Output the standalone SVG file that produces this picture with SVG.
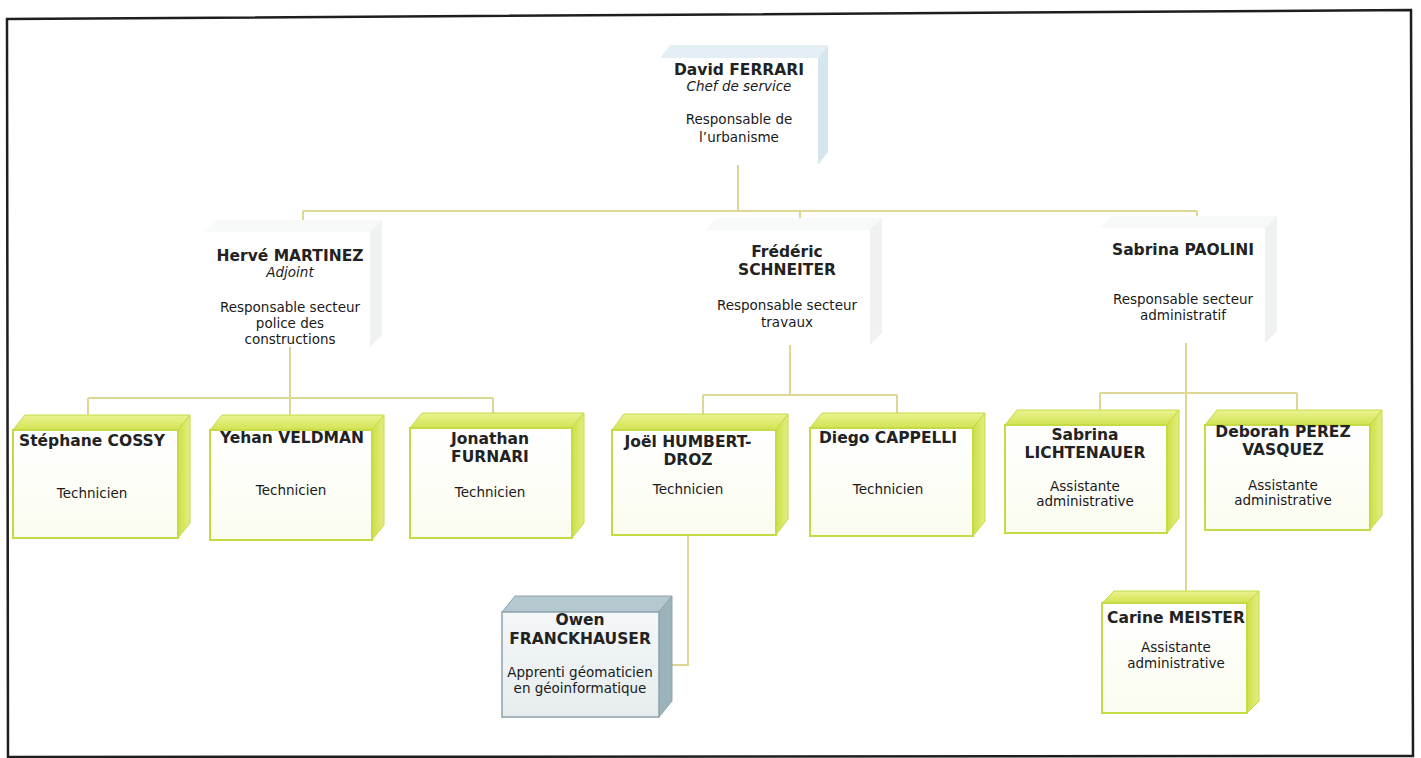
<svg xmlns="http://www.w3.org/2000/svg" width="1421" height="758" viewBox="0 0 1421 758">
<defs>
<linearGradient id="gFront" x1="0" y1="0" x2="0" y2="1"><stop offset="0" stop-color="#ffffff"/><stop offset="1" stop-color="#fbfcef"/></linearGradient>
<linearGradient id="gTop" x1="0" y1="0" x2="0" y2="1"><stop offset="0" stop-color="#eaf390"/><stop offset="1" stop-color="#d2e352"/></linearGradient>
<linearGradient id="gSide" x1="0" y1="0" x2="1" y2="0"><stop offset="0" stop-color="#cde04a"/><stop offset="1" stop-color="#e3ee80"/></linearGradient>
<linearGradient id="gOwenF" x1="0" y1="0" x2="0" y2="1"><stop offset="0" stop-color="#f4f7f8"/><stop offset="1" stop-color="#e6ecee"/></linearGradient>
</defs>
<style>
.frame{fill:none;stroke:#1e1e1e;stroke-width:2.5}
.conn{fill:none;stroke:#dcd894;stroke-width:2}
.yF{fill:url(#gFront);stroke:#c6da46;stroke-width:2}
.yT{fill:url(#gTop);stroke:#c6da46;stroke-width:1}
.yS{fill:url(#gSide);stroke:#c6da46;stroke-width:1}
.wF{fill:#ffffff;stroke:none}
.wT{fill:#f8f9f9;stroke:none}
.wS{fill:#f0f1f1;stroke:none}
.bF{fill:#ffffff;stroke:none}
.bT{fill:#e4eff5;stroke:none}
.bS{fill:#d6e6ef;stroke:none}
.gF{fill:url(#gOwenF);stroke:#8fa3ad;stroke-width:1.5}
.gT{fill:#b6c8cf;stroke:#8fa3ad;stroke-width:1}
.gS{fill:#9db3bb;stroke:#8fa3ad;stroke-width:1}
text{font-family:"DejaVu Sans",Verdana,sans-serif;text-anchor:middle;fill:#1a1a1a}
.n{font-size:15.5px;font-weight:bold;fill:#222}
.r{font-size:13.5px}
.i{font-size:13.5px;font-style:italic}
</style>
<rect width="1421" height="758" fill="#ffffff"/>
<polygon class="frame" points="7,19 1411,10 1413,756 8,757"/>
<g id="connectors">
<path class="conn" d="M738,165 V211 M303,211 H1197 M303,211 V221 M800,211 V218 M1197,211 V216"/>
<path class="conn" d="M290,347 V398 M88,398 H493 M88,398 V416 M290,398 V416 M493,398 V414"/>
<path class="conn" d="M790,345 V395 M703,395 H897 M703,395 V414 M897,395 V413"/>
<path class="conn" d="M1186,343 V591 M1100,393 H1297 M1100,393 V411 M1297,393 V411"/>
<path class="conn" d="M688,535 V665 H672"/>
</g>
<g id="david">
<polygon class="bT" points="660,58 670,45 828,45 818,58"/>
<polygon class="bS" points="818,58 828,45 828,152 818,165"/>
<rect class="bF" x="660" y="58" width="158" height="107"/>
<text class="n" x="739" y="75">David FERRARI</text>
<text class="i" x="739" y="91">Chef de service</text>
<text class="r" x="739" y="124">Responsable de</text>
<text class="r" x="739" y="142">l’urbanisme</text>
</g>
<g id="herve">
<polygon class="wT" points="205,232 217,220 382,220 370,232"/>
<polygon class="wS" points="370,232 382,220 382,335 370,347"/>
<rect class="wF" x="205" y="232" width="165" height="115"/>
<text class="n" x="290" y="261">Hervé MARTINEZ</text>
<text class="i" x="290" y="277">Adjoint</text>
<text class="r" x="290" y="312">Responsable secteur</text>
<text class="r" x="290" y="328">police des</text>
<text class="r" x="290" y="344">constructions</text>
</g>
<g id="frederic">
<polygon class="wT" points="705,230 717,218 882,218 870,230"/>
<polygon class="wS" points="870,230 882,218 882,333 870,345"/>
<rect class="wF" x="705" y="230" width="165" height="115"/>
<text class="n" x="787" y="257">Frédéric</text>
<text class="n" x="787" y="275">SCHNEITER</text>
<text class="r" x="787" y="310">Responsable secteur</text>
<text class="r" x="787" y="327">travaux</text>
</g>
<g id="sabrina-paolini">
<polygon class="wT" points="1100,228 1112,216 1277,216 1265,228"/>
<polygon class="wS" points="1265,228 1277,216 1277,331 1265,343"/>
<rect class="wF" x="1100" y="228" width="165" height="115"/>
<text class="n" x="1183" y="255">Sabrina PAOLINI</text>
<text class="r" x="1183" y="304">Responsable secteur</text>
<text class="r" x="1183" y="320">administratif</text>
</g>
<g id="stephane">
<polygon class="yT" points="13,430 25,415 190,415 178,430"/>
<polygon class="yS" points="178,430 190,415 190,523 178,538"/>
<rect class="yF" x="13" y="430" width="165" height="108"/>
<text class="n" x="92" y="446">Stéphane COSSY</text>
<text class="r" x="92" y="498">Technicien</text>
</g>
<g id="yehan">
<polygon class="yT" points="210,430 222,415 384,415 372,430"/>
<polygon class="yS" points="372,430 384,415 384,525 372,540"/>
<rect class="yF" x="210" y="430" width="162" height="110"/>
<text class="n" x="292" y="443">Yehan VELDMAN</text>
<text class="r" x="291" y="495">Technicien</text>
</g>
<g id="jonathan">
<polygon class="yT" points="410,428 422,413 584,413 572,428"/>
<polygon class="yS" points="572,428 584,413 584,523 572,538"/>
<rect class="yF" x="410" y="428" width="162" height="110"/>
<text class="n" x="490" y="444">Jonathan</text>
<text class="n" x="490" y="462">FURNARI</text>
<text class="r" x="490" y="497">Technicien</text>
</g>
<g id="joel">
<polygon class="yT" points="612,430 624,414 788,414 776,430"/>
<polygon class="yS" points="776,430 788,414 788,519 776,535"/>
<rect class="yF" x="612" y="430" width="164" height="105"/>
<text class="n" x="688" y="447">Joël HUMBERT-</text>
<text class="n" x="688" y="465">DROZ</text>
<text class="r" x="688" y="494">Technicien</text>
</g>
<g id="diego">
<polygon class="yT" points="810,428 822,413 985,413 973,428"/>
<polygon class="yS" points="973,428 985,413 985,521 973,536"/>
<rect class="yF" x="810" y="428" width="163" height="108"/>
<text class="n" x="888" y="443">Diego CAPPELLI</text>
<text class="r" x="888" y="494">Technicien</text>
</g>
<g id="sabrina-lichtenauer">
<polygon class="yT" points="1005,425 1017,410 1179,410 1167,425"/>
<polygon class="yS" points="1167,425 1179,410 1179,518 1167,533"/>
<rect class="yF" x="1005" y="425" width="162" height="108"/>
<text class="n" x="1085" y="440">Sabrina</text>
<text class="n" x="1085" y="458">LICHTENAUER</text>
<text class="r" x="1085" y="491">Assistante</text>
<text class="r" x="1085" y="506">administrative</text>
</g>
<g id="deborah">
<polygon class="yT" points="1205,425 1217,410 1382,410 1370,425"/>
<polygon class="yS" points="1370,425 1382,410 1382,515 1370,530"/>
<rect class="yF" x="1205" y="425" width="165" height="105"/>
<text class="n" x="1283" y="437">Deborah PEREZ</text>
<text class="n" x="1283" y="455">VASQUEZ</text>
<text class="r" x="1283" y="490">Assistante</text>
<text class="r" x="1283" y="505">administrative</text>
</g>
<g id="carine">
<polygon class="yT" points="1102,603 1114,591 1259,591 1247,603"/>
<polygon class="yS" points="1247,603 1259,591 1259,701 1247,713"/>
<rect class="yF" x="1102" y="603" width="145" height="110"/>
<text class="n" x="1176" y="623">Carine MEISTER</text>
<text class="r" x="1176" y="652">Assistante</text>
<text class="r" x="1176" y="668">administrative</text>
</g>
<g id="owen">
<polygon class="gT" points="502,612 515,596 672,596 659,612"/>
<polygon class="gS" points="659,612 672,596 672,701 659,717"/>
<rect class="gF" x="502" y="612" width="157" height="105"/>
<text class="n" x="580" y="625">Owen</text>
<text class="n" x="580" y="644">FRANCKHAUSER</text>
<text class="r" x="580" y="677">Apprenti géomaticien</text>
<text class="r" x="580" y="693">en géoinformatique</text>
</g>
</svg>
